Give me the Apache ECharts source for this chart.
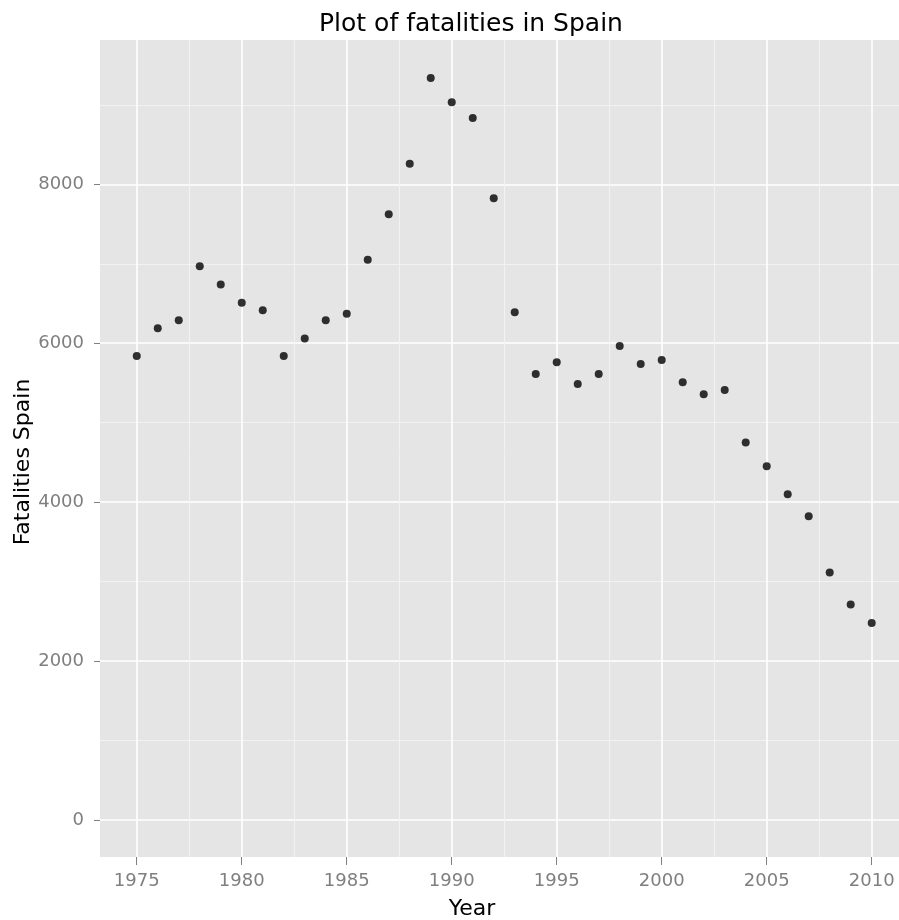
<!DOCTYPE html>
<html>
<head>
<meta charset="utf-8">
<script src="https://cdn.jsdelivr.net/npm/echarts@6/dist/echarts.min.js"></script>
<style>
  html, body { margin: 0; padding: 0; background: #fff; }
  #chartMain { width: 899px; height: 920px; }
</style>
</head>
<body>
<div id="chartMain"></div>
<script>
// data
var years = [1975, 1976, 1977, 1978, 1979, 1980, 1981, 1982, 1983, 1984, 1985, 1986,
             1987, 1988, 1989, 1990, 1991, 1992, 1993, 1994, 1995, 1996, 1997, 1998,
             1999, 2000, 2001, 2002, 2003, 2004, 2005, 2006, 2007, 2008, 2009, 2010];
var fatalities = [5840, 6190, 6290, 6970, 6740, 6510, 6415, 5840, 6060, 6290, 6370, 7050,
                  7625, 8260, 9340, 9035, 8835, 7825, 6390, 5612, 5760, 5486, 5612, 5965,
                  5739, 5789, 5508, 5357, 5411, 4752, 4453, 4100, 3823, 3114, 2711, 2479];
var xTicks = [1975, 1980, 1985, 1990, 1995, 2000, 2005, 2010];
var xMinor = [1977.5, 1982.5, 1987.5, 1992.5, 1997.5, 2002.5, 2007.5];
var yTicks = [0, 2000, 4000, 6000, 8000];
var yMinor = [1000, 3000, 5000, 7000, 9000];

var font = "DejaVu Sans";
var xMin = 1973.25, xMax = 2011.3;     // panel is cut at the right edge
var yMin = -467.5, yMax = 9817.5;

var pts = [];
for (var i = 0; i < years.length; i++) {
  pts.push([years[i], fatalities[i]]);
}

function plain(v) { return String(v); }

var option = {
  backgroundColor: '#fff',
  animation: false,
  grid: {
    left: 100, top: 40, right: 0, bottom: 63,
    show: true, backgroundColor: '#E5E5E5', borderWidth: 0
  },
  xAxis: [
    {
      // minor grid lines
      type: 'value', min: xMin, max: xMax, position: 'top',
      axisLine: { show: false, onZero: false },
      axisTick: { show: false, customValues: xMinor },
      axisLabel: { show: false, customValues: xMinor },
      splitLine: { show: true, lineStyle: { color: '#F2F2F2', width: 1 } }
    },
    {
      type: 'value', min: xMin, max: xMax, position: 'bottom',
      axisLine: { show: false, onZero: false },
      axisTick: { show: true, length: 8, customValues: xTicks, lineStyle: { color: '#7F7F7F', width: 1 } },
      axisLabel: { customValues: xTicks, formatter: plain, color: '#7F7F7F', fontFamily: font, fontSize: 18, margin: 15 },
      splitLine: { show: true, lineStyle: { color: '#FFFFFF', width: 1.6 } }
    }
  ],
  yAxis: [
    {
      type: 'value', min: yMin, max: yMax, position: 'right',
      axisLine: { show: false, onZero: false },
      axisTick: { show: false, customValues: yMinor },
      axisLabel: { show: false, customValues: yMinor },
      splitLine: { show: true, lineStyle: { color: '#F2F2F2', width: 1 } }
    },
    {
      type: 'value', min: yMin, max: yMax, position: 'left',
      axisLine: { show: false, onZero: false },
      axisTick: { show: true, length: 6, customValues: yTicks, lineStyle: { color: '#7F7F7F', width: 1 } },
      axisLabel: { customValues: yTicks, formatter: plain, color: '#7F7F7F', fontFamily: font, fontSize: 18, margin: 16 },
      splitLine: { show: true, lineStyle: { color: '#FFFFFF', width: 1.6 } }
    }
  ],
  graphic: [
    { type: 'text', x: 471, y: 24, style: { text: 'Plot of fatalities in Spain', font: '25px "DejaVu Sans"', fill: '#000', align: 'center', verticalAlign: 'middle' } },
    { type: 'text', x: 472, y: 909, style: { text: 'Year', font: '22px "DejaVu Sans"', fill: '#000', align: 'center', verticalAlign: 'middle' } },
    { type: 'text', x: 23, y: 462, rotation: Math.PI / 2, style: { text: 'Fatalities Spain', font: '22px "DejaVu Sans"', fill: '#000', align: 'center', verticalAlign: 'middle' } }
  ],
  series: [
    {
      type: 'scatter',
      xAxisIndex: 1,
      yAxisIndex: 1,
      symbol: 'circle',
      symbolSize: 8,
      itemStyle: { color: '#000' },
      data: pts
    }
  ]
};

var myChart = echarts.init(document.getElementById("chartMain"));
myChart.setOption(option);
</script>
</body>
</html>
